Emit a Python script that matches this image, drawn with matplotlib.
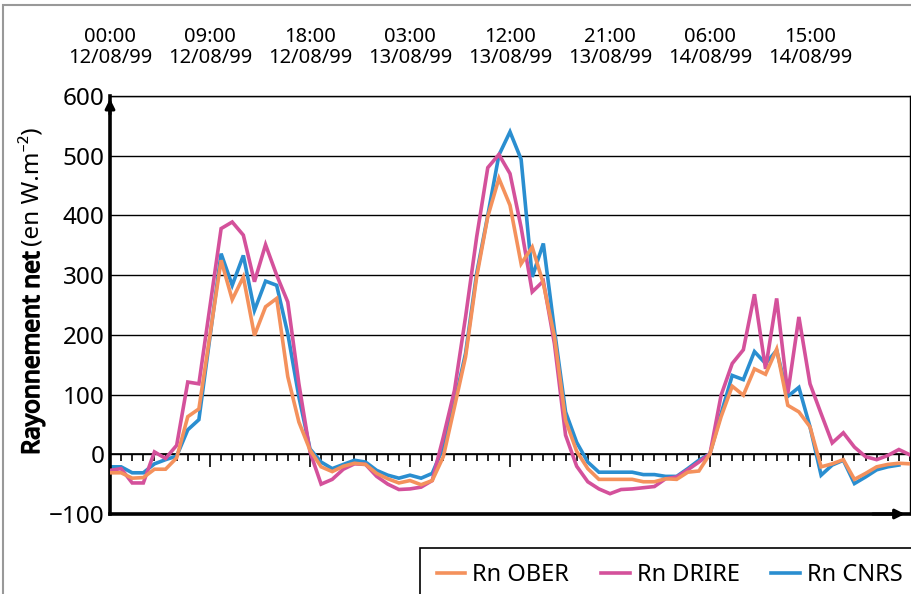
import matplotlib
matplotlib.use("Agg")
import matplotlib.pyplot as plt
import matplotlib.patheffects as pe
from matplotlib.patches import Rectangle
from matplotlib.ticker import MultipleLocator

plt.rcParams['font.family'] = ['Noto Sans', 'DejaVu Sans']

# ---- data (hourly, starting 12/08/99 00:00) ----
rn_ober = [-31, -31, -40, -39, -25, -25, -6, 63, 76, 200, 325, 259, 297, 199, 247, 261,
           130, 54, 7, -21, -29, -20, -15, -17, -32, -41, -48, -44, -51, -44, -4, 79,
           163, 297, 398, 462, 417, 319, 347, 286, 197, 57, 5, -24, -42, -42, -42, -42,
           -46, -46, -41, -42, -30, -28, 1, 63, 114, 99, 143, 134, 176, 82, 71, 46,
           -21, -16, -9, -42, -32, -21, -17, -15, -16]
rn_drire = [-27, -24, -48, -48, 4, -7, 15, 121, 118, 248, 378, 389, 367, 289, 351, 300,
            255, 118, 4, -50, -42, -25, -16, -17, -37, -50, -59, -58, -55, -44, 29, 107,
            230, 364, 480, 502, 470, 380, 272, 290, 185, 32, -20, -46, -58, -66, -59, -58,
            -56, -54, -41, -38, -26, -13, 1, 99, 152, 175, 268, 143, 261, 102, 230, 118,
            68, 19, 36, 12, -4, -9, -2, 8, -1]
rn_cnrs = [-21, -21, -31, -31, -16, -9, -3, 41, 58, 197, 336, 283, 333, 241, 290, 283,
           202, 96, 9, -13, -24, -17, -10, -13, -27, -35, -40, -35, -40, -32, 12, 85,
           169, 303, 400, 501, 540, 494, 297, 353, 208, 71, 20, -13, -30, -30, -30, -30,
           -34, -34, -37, -37, -24, -10, 1, 68, 132, 125, 172, 152, 174, 97, 112, 46,
           -35, -18, -10, -49, -38, -26, -21, -18]
series_names = ["Rn OBER", "Rn DRIRE", "Rn CNRS"]
series_colors = ["#F4915C", "#D4519B", "#2A8ED0"]
top_ticks = [0, 9, 18, 27, 36, 45, 54, 63]
top_labels = ["00:00\n12/08/99", "09:00\n12/08/99", "18:00\n12/08/99", "03:00\n13/08/99",
              "12:00\n13/08/99", "21:00\n13/08/99", "06:00\n14/08/99", "15:00\n14/08/99"]
y_ticks = [-100, 0, 100, 200, 300, 400, 500, 600]
ylabel_bold = "Rayonnement net"
ylabel_rest = "(en W.m\u207b\u00b2)"

W, H = 912, 594
fig = plt.figure(figsize=(W / 100, H / 100), dpi=100)
ax = fig.add_axes([110 / W, 1 - 514 / H, 800 / W, 418 / H])
ax.set_xlim(0, 72)
ax.set_ylim(-100, 600)

datas = [rn_ober, rn_drire, rn_cnrs]
zs = [4, 3, 2]
handles = []
for d, name, c, z in zip(datas, series_names, series_colors, zs):
    ln, = ax.plot(range(len(d)), d, color=c, lw=2.6, zorder=z, label=name,
                  solid_joinstyle='miter')
    handles.append(ln)

# grid
ax.set_yticks(y_ticks)
ax.yaxis.grid(True, color='black', lw=1.0, zorder=1)
ax.set_axisbelow(True)
ax.tick_params(axis='y', length=0, pad=4, labelsize=17.5)

# top labels
ax.xaxis.tick_top()
ax.set_xticks(top_ticks, top_labels)
ax.tick_params(axis='x', length=0, pad=20, labelsize=14.5)
for t in ax.get_xticklabels():
    t.set_linespacing(1.1)

# spines
for s in ['left', 'bottom']:
    ax.spines[s].set_linewidth(2.6)
for s in ['top', 'right']:
    ax.spines[s].set_linewidth(1.0)

# arrows on axes
ax.annotate('', xy=(0, 1.0), xytext=(0, 0.95), xycoords='axes fraction',
            arrowprops=dict(arrowstyle='-|>', color='black', lw=2.2, mutation_scale=14),
            annotation_clip=False)
ax.annotate('', xy=(0.997, 0), xytext=(0.95, 0), xycoords='axes fraction',
            arrowprops=dict(arrowstyle='-|>', color='black', lw=2.2, mutation_scale=14),
            annotation_clip=False)

# zero axis with hourly ticks
sec = ax.secondary_xaxis(1 / 7)
sec.set_xticks(top_ticks, [''] * len(top_ticks))
sec.xaxis.set_minor_locator(MultipleLocator(1))
sec.tick_params(which='major', length=9, width=1.2, direction='out', color='black')
sec.tick_params(which='minor', length=5, width=1.2, direction='out', color='black')
sec.spines['bottom'].set_linewidth(1.2)

# y label: bold part + regular part
t1 = fig.text(33 / W, 1 - 455 / H, ylabel_bold, rotation=90, ha='center', va='bottom',
              fontsize=17.5, fontweight='bold',
              path_effects=[pe.withStroke(linewidth=1.1, foreground='black')])
fig.canvas.draw()
bb = t1.get_window_extent()
t2 = fig.text(33 / W, (bb.y1 + 5) / H, ylabel_rest, rotation=90, ha='center', va='bottom',
              fontsize=17.5)

# legend
fig.legend(handles, series_names, loc='center left', bbox_to_anchor=(437 / W, 1 - 575 / H),
           ncol=3, frameon=False, fontsize=17, handlelength=1.2, handletextpad=0.3,
           columnspacing=1.35, borderpad=0, borderaxespad=0)
fig.patches.append(Rectangle((420 / W, -0.2), 600 / W, 0.2 + (594 - 548) / H,
                             transform=fig.transFigure, fill=False, edgecolor='black', lw=1.2))
# outer frame
fig.patches.append(Rectangle((3.5 / W, -0.2), 2.0, 0.2 + (594 - 4.5) / H,
                             transform=fig.transFigure, fill=False, edgecolor='#999999', lw=1.5))

fig.savefig("out.png", dpi=100)
